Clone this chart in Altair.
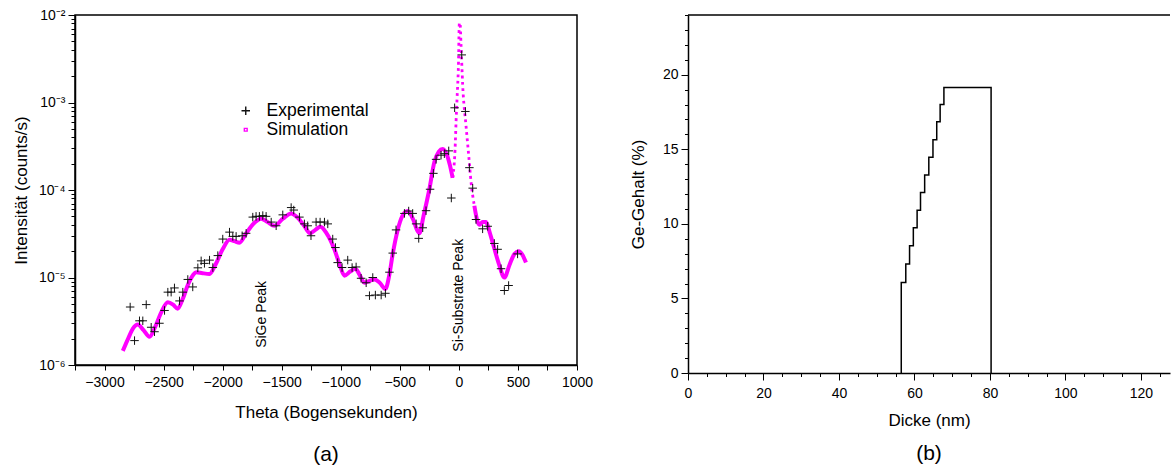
import altair as alt
import pandas as pd
import numpy as np

FONT = "Liberation Sans"
MAGENTA = "#ff00ff"

# ---------------- Panel (a): X-ray rocking curve ----------------
exp_theta = [-2783, -2746, -2704, -2676, -2647, -2605, -2577, -2535, -2492, -2464,
             -2436, -2408, -2365, -2337, -2295, -2253, -2210, -2182, -2154, -2111,
             -2083, -2041, -1999, -1942, -1914, -1886, -1835, -1801, -1745, -1717,
             -1689, -1660, -1632, -1589, -1547, -1491, -1420, -1398, -1350, -1308,
             -1280, -1252, -1209, -1175, -1138, -1110, -1068, -1045, -1026, -989,
             -941, -904, -870, -828, -785, -757, -729, -707, -658, -622,
             -588, -560, -532, -461, -425, -391, -362, -340, -306, -278,
             -244, -216, -193, -151, -123, -86, -64, -36, 24, 55,
             89, 117, 145, 201, 244, 300, 328, 357, 385, 421, 497]
exp_int = [4.6e-6, 1.9e-6, 3.2e-6, 3.2e-6, 4.9e-6, 2.7e-6, 2.4e-6, 3.0e-6, 4.2e-6, 6.8e-6,
           6.8e-6, 7.6e-6, 5.4e-6, 6.8e-6, 9.5e-6, 7.8e-6, 1.29e-5, 1.55e-5, 1.45e-5, 1.58e-5,
           1.30e-5, 1.78e-5, 2.75e-5, 3.3e-5, 2.95e-5, 2.95e-5, 3.0e-5, 3.2e-5, 4.9e-5, 5.0e-5,
           5.0e-5, 5.1e-5, 5.0e-5, 4.3e-5, 3.9e-5, 5.2e-5, 6.3e-5, 5.9e-5, 4.9e-5, 4.1e-5,
           3.9e-5, 3.0e-5, 4.3e-5, 4.3e-5, 4.3e-5, 4.1e-5, 2.75e-5, 2.2e-5, 1.48e-5, 1.30e-5,
           1.58e-5, 1.30e-5, 1.32e-5, 9.8e-6, 8.7e-6, 6.2e-6, 1.0e-5, 6.3e-6, 6.3e-6, 6.6e-6,
           1.15e-5, 1.9e-5, 3.5e-5, 5.4e-5, 5.75e-5, 5.4e-5, 4.1e-5, 2.8e-5, 3.7e-5, 5.8e-5,
           1.02e-4, 1.55e-4, 2.24e-4, 2.5e-4, 2.6e-4, 2.8e-4, 8.1e-5, 8.7e-4, 3.5e-3, 7.9e-4,
           1.8e-4, 1.05e-4, 4.6e-5, 3.6e-5, 3.85e-5, 2.45e-5, 2.1e-5, 1.26e-5, 7.1e-6, 8.1e-6, 1.86e-5]

sim_theta = [-2845, -2800, -2760, -2718, -2670, -2619, -2570, -2520, -2464, -2420,
             -2380, -2340, -2290, -2250, -2224, -2170, -2111, -2060, -2000, -1942,
             -1900, -1858, -1800, -1740, -1674, -1620, -1561, -1490, -1420, -1370,
             -1310, -1259, -1215, -1172, -1120, -1054, -1010, -969, -920, -876,
             -840, -800, -760, -715, -670, -622, -590, -560, -518, -480,
             -433, -390, -350, -334, -300, -250, -207, -170, -137, -100,
             -75, -53, -30, -24, -15, -4, 4, 10, 18, 32,
             60, 83, 103, 131, 159, 176, 200, 230, 260, 302,
             340, 385, 430, 470, 506, 540, 568]
sim_int = [1.45e-6, 2.0e-6, 2.6e-6, 2.9e-6, 2.5e-6, 2.1e-6, 2.75e-6, 4.0e-6, 5.2e-6, 4.9e-6,
           4.4e-6, 5.6e-6, 8.5e-6, 1.07e-5, 1.15e-5, 1.12e-5, 1.10e-5, 1.41e-5, 2.1e-5, 2.7e-5,
           2.6e-5, 2.5e-5, 3.2e-5, 4.1e-5, 4.7e-5, 4.3e-5, 3.9e-5, 4.7e-5, 5.4e-5, 4.9e-5,
           3.9e-5, 3.2e-5, 3.5e-5, 3.8e-5, 3.2e-5, 2.1e-5, 1.41e-5, 1.05e-5, 1.17e-5, 1.26e-5,
           1.07e-5, 8.7e-6, 9.1e-6, 9.5e-6, 8.7e-6, 7.4e-6, 1.05e-5, 1.86e-5, 3.5e-5, 5.0e-5,
           5.75e-5, 4.7e-5, 3.4e-5, 3.2e-5, 5.0e-5, 1.02e-4, 2.1e-4, 2.75e-4, 2.95e-4, 2.5e-4,
           1.9e-4, 1.38e-4, 3.5e-4, 6.0e-4, 1.15e-3, 2.6e-3, 8.0e-3, 8.1e-3, 4.6e-3, 1.6e-3,
           5.5e-4, 2.5e-4, 1.23e-4, 6.6e-5, 4.3e-5, 4.0e-5, 4.3e-5, 4.3e-5, 3.3e-5, 2.1e-5,
           1.41e-5, 1.0e-5, 1.41e-5, 1.86e-5, 2.0e-5, 1.8e-5, 1.48e-5]

ann_labels = ["SiGe Peak", "Si-Substrate Peak"]
ann_theta = [-1665, 4]
ann_int = [1.57e-6, 1.42e-6]

series_names = ["Experimental", "Simulation"]

# ---------------- Panel (b): Ge profile ----------------
dicke = [56.5, 56.5, 57.7, 58.7, 59.7, 60.7, 61.6, 62.7, 63.8, 64.9, 65.9, 66.8, 67.8, 80.3]
ge = [0, 6.07, 7.30, 8.53, 9.73, 10.91, 12.10, 13.28, 14.46, 15.64, 16.85, 18.00, 19.14, 0]

# ---------------- build panel (a) ----------------
WA, HA = 502, 350
exp_df = pd.DataFrame({"theta": exp_theta, "intensity": exp_int, "series": "Experimental"})
sim = pd.DataFrame({"theta": sim_theta, "intensity": sim_int})
sim_solid = sim[(sim.theta <= -53) | (sim.theta >= 131)].copy()
sim_solid["seg"] = np.where(sim_solid.theta <= -53, "left", "right")
sim_dot = sim[(sim.theta >= -53) & (sim.theta <= 131)].copy()
ann_df = pd.DataFrame({"theta": ann_theta, "intensity": ann_int, "label": ann_labels})

xs = alt.Scale(domain=[-3250, 1000], nice=False)
ys = alt.Scale(type="log", domain=[1e-6, 1e-2], nice=False)

x_vals = list(range(-3250, 1001, 250))
y_vals = [k * 10.0 ** e for e in range(-6, -2) for k in range(1, 10)] + [1e-2]
is_major_log = "abs(log(datum.value)/LN10 - round(log(datum.value)/LN10)) < 0.001"

x_axis_a = alt.Axis(values=x_vals, title="Theta (Bogensekunden)", grid=False,
                    labelExpr="datum.value % 500 === 0 ? format(datum.value, 'd') : ''",
                    labelFlush=False, labelOverlap=False, tickSize=5, labelPadding=5,
                    titlePadding=15)
y_axis_a = alt.Axis(values=y_vals, title="Intensität (counts/s)", grid=False,
                    labelExpr=is_major_log + " ? '10' + ['⁻⁶','⁻⁵','⁻⁴','⁻³','⁻²'][round(log(datum.value)/LN10)+6] : ''",
                    tickSize=alt.condition(is_major_log, alt.value(7), alt.value(4)),
                    labelOverlap=False, labelFlush=False, labelPadding=3, titlePadding=8)

X = alt.X("theta:Q", scale=xs, axis=x_axis_a)
Y = alt.Y("intensity:Q", scale=ys, axis=y_axis_a)

solid = alt.Chart(sim_solid).mark_line(color=MAGENTA, strokeWidth=4, interpolate="monotone").encode(
    x=X, y=Y, detail="seg:N")
dotted = alt.Chart(sim_dot).mark_line(color=MAGENTA, strokeWidth=2.8, strokeDash=[2.8, 3.5],
                                      interpolate="monotone").encode(x=X, y=Y)

legend = alt.Legend(title=None, orient="none", legendX=162, legendY=87,
                    labelFont=FONT, labelFontSize=17.5, labelColor="black",
                    labelOffset=12, rowPadding=0, symbolStrokeWidth=1.4)
plus_path = "M-1,0L1,0M0,-1L0,1"
points = alt.Chart(exp_df).mark_point(filled=False, strokeWidth=1, opacity=1).encode(
    x=X, y=Y,
    color=alt.Color("series:N", scale=alt.Scale(domain=series_names, range=["#111111", MAGENTA]), legend=legend),
    shape=alt.Shape("series:N", scale=alt.Scale(domain=series_names, range=[plus_path, "square"]), legend=legend),
    size=alt.Size("series:N", scale=alt.Scale(domain=series_names, range=[72, 8]), legend=legend),
)
ann = alt.Chart(ann_df).mark_text(angle=270, align="left", baseline="middle", font=FONT,
                                  fontSize=14, color="black").encode(x=X, y=Y, text="label:N")

panel_a = alt.layer(solid, dotted, points, ann).properties(
    width=WA, height=HA,
    view=alt.ViewBackground(stroke="black", strokeWidth=1.5),
    title=alt.TitleParams("(a)", orient="bottom", fontSize=21, font=FONT, fontWeight="normal",
                          color="black", offset=24),
)

# ---------------- build panel (b) ----------------
WB, HB = 482, 358
prof = pd.DataFrame({"dicke": dicke, "ge": ge, "i": list(range(len(dicke)))})
x_axis_b = alt.Axis(values=list(range(0, 126, 5)), title="Dicke (nm)", grid=False,
                    labelExpr="datum.value % 20 === 0 ? format(datum.value, 'd') : ''",
                    tickSize=alt.condition("datum.value % 20 === 0", alt.value(7), alt.value(3.5)),
                    labelFlush=False, labelOverlap=False, labelPadding=6, titlePadding=12)
y_axis_b = alt.Axis(values=list(range(0, 25)), title="Ge-Gehalt (%)", grid=False,
                    labelExpr="datum.value % 5 === 0 ? format(datum.value, 'd') : ''",
                    tickSize=alt.condition("datum.value % 5 === 0", alt.value(7), alt.value(3.5)),
                    labelFlush=False, labelOverlap=False, labelPadding=3, titlePadding=15)

profile = alt.Chart(prof).mark_line(interpolate="step-after", color="black", strokeWidth=1.5).encode(
    x=alt.X("dicke:Q", scale=alt.Scale(domain=[0, 127.7], nice=False), axis=x_axis_b),
    y=alt.Y("ge:Q", scale=alt.Scale(domain=[0, 24], nice=False), axis=y_axis_b),
    order="i:Q",
)
top_line = alt.Chart(pd.DataFrame({"k": [0]})).mark_rule(color="black", strokeWidth=1.5).encode(
    x=alt.value(0), x2=alt.value(WB), y=alt.value(0))

panel_b = alt.layer(profile, top_line).properties(
    width=WB, height=HB,
    title=alt.TitleParams("(b)", orient="bottom", fontSize=21, font=FONT, fontWeight="normal",
                          color="black", offset=15),
)

chart = alt.hconcat(panel_a, panel_b, spacing=111, bounds="flush").properties(
    padding={"left": 11, "top": 7, "right": 0, "bottom": 0},
    background="white",
).configure_axis(
    grid=False, domainColor="black", domainWidth=1.5, tickColor="black", tickWidth=1,
    labelColor="black", titleColor="black", labelFont=FONT, titleFont=FONT,
    labelFontSize=14, titleFontSize=17, titleFontWeight="normal",
).configure_view(strokeWidth=0)

chart.save("out.html", embed_options={"renderer": "svg", "actions": False})
